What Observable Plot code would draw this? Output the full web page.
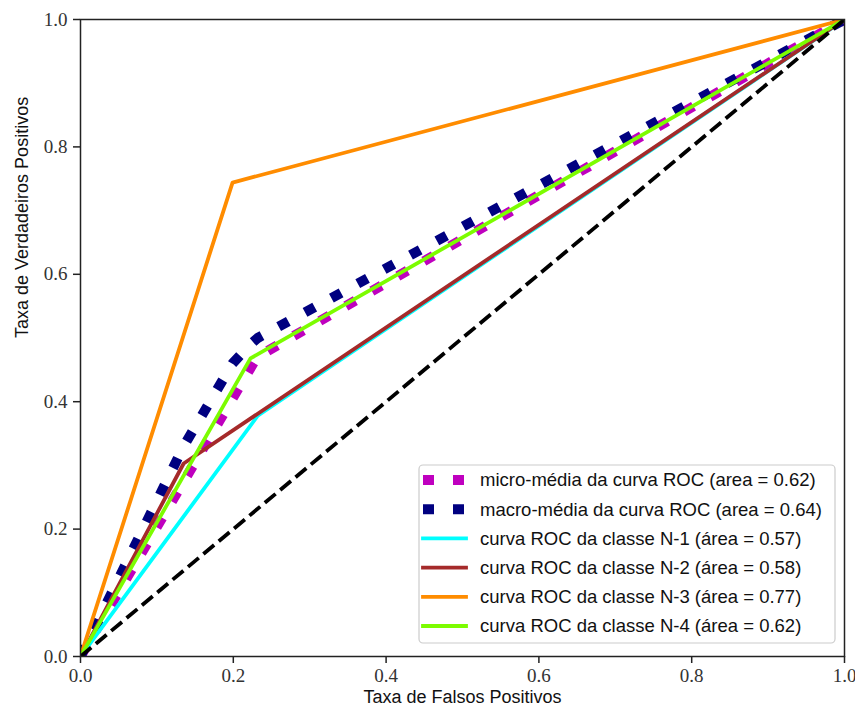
<!DOCTYPE html>
<html>
<head>
<meta charset="utf-8">
<script src="https://cdn.jsdelivr.net/npm/d3@7"></script>
<script src="https://cdn.jsdelivr.net/npm/@observablehq/plot@0.6"></script>
<style>
  html, body { margin: 0; padding: 0; background: #fff; }
  #chart svg { display: block; }
  #chart svg text.tick-serif { font-family: "Liberation Serif", "DejaVu Serif", serif !important; }
</style>
</head>
<body>
<div id="chart"></div>
<script>
// ROC curves (false positive rate, true positive rate) per series
const microFpr = [0, 0.231, 1];
const microTpr = [0, 0.47, 1];
const macroFpr = [0, 0.135, 0.199, 0.2225, 0.232, 1];
const macroTpr = [0, 0.33, 0.46, 0.49, 0.50, 1];
const n1Fpr = [0, 0.232, 1];
const n1Tpr = [0, 0.378, 1];
const n2Fpr = [0, 0.135, 1];
const n2Tpr = [0, 0.303, 1];
const n3Fpr = [0, 0.199, 1];
const n3Tpr = [0, 0.744, 1];
const n4Fpr = [0, 0.2225, 1];
const n4Tpr = [0, 0.468, 1];
const chanceFpr = [0, 1];
const chanceTpr = [0, 1];

const seriesKeys = ["micro", "macro", "N-1", "N-2", "N-3", "N-4"];
const seriesLabels = [
  "micro-média da curva ROC (area = 0.62)",
  "macro-média da curva ROC (area = 0.64)",
  "curva ROC da classe N-1 (área = 0.57)",
  "curva ROC da classe N-2 (área = 0.58)",
  "curva ROC da classe N-3 (área = 0.77)",
  "curva ROC da classe N-4 (área = 0.62)"
];
const axisTicks = [0, 0.2, 0.4, 0.6, 0.8, 1.0];

// drawing styles, kept apart from the values
const styles = {
  "micro": {stroke: "#bf00bf", width: 10, dash: "11 19"},
  "macro": {stroke: "#000080", width: 10, dash: "11 19"},
  "N-1": {stroke: "#00ffff", width: 3.8, dash: null},
  "N-2": {stroke: "#a52a2a", width: 3.8, dash: null},
  "N-3": {stroke: "#ff8c00", width: 3.8, dash: null},
  "N-4": {stroke: "#7cfc00", width: 3.8, dash: null}
};

const curveValues = {
  "micro": [microFpr, microTpr],
  "macro": [macroFpr, macroTpr],
  "N-1": [n1Fpr, n1Tpr],
  "N-2": [n2Fpr, n2Tpr],
  "N-3": [n3Fpr, n3Tpr],
  "N-4": [n4Fpr, n4Tpr]
};

const toRows = (fpr, tpr) => fpr.map((f, i) => ({fpr: f, tpr: tpr[i]}));

const W = 855, H = 713;
const margin = {top: 19, right: 11, bottom: 57, left: 80};
const sans = "'Liberation Sans', Arial, sans-serif";

const curveMarks = seriesKeys.map(k => {
  const s = styles[k];
  const [f, t] = curveValues[k];
  return Plot.line(toRows(f, t), {
    x: "fpr", y: "tpr",
    stroke: s.stroke,
    strokeWidth: s.width,
    strokeDasharray: s.dash ?? undefined,
    strokeLinecap: s.dash ? "butt" : "round",
    strokeLinejoin: "round",
    clip: true
  });
});

const chart = Plot.plot({
  width: W,
  height: H,
  marginTop: margin.top,
  marginRight: margin.right,
  marginBottom: margin.bottom,
  marginLeft: margin.left,
  style: {background: "#fff", color: "#222", fontSize: "19px", overflow: "visible"},
  x: {domain: [0, 1], label: null},
  y: {domain: [0, 1], label: null},
  marks: [
    ...curveMarks,
    Plot.line(toRows(chanceFpr, chanceTpr), {
      x: "fpr", y: "tpr", stroke: "#000", strokeWidth: 3.8,
      strokeDasharray: "14 6", strokeLinecap: "butt", clip: true
    }),
    Plot.frame({stroke: "#222", strokeWidth: 1.5}),
    Plot.axisX({
      ticks: axisTicks, tickFormat: d3.format(".1f"), tickSize: 7, tickPadding: 5,
      fontSize: 19, strokeWidth: 1.5, label: null
    }),
    Plot.axisY({
      ticks: axisTicks, tickFormat: d3.format(".1f"), tickSize: 7, tickPadding: 6,
      fontSize: 19, strokeWidth: 1.5, label: null
    }),
    Plot.text(["Taxa de Falsos Positivos"], {
      text: d => d, frameAnchor: "bottom", dy: 41, lineAnchor: "middle",
      fontSize: 18, fontFamily: sans, fill: "#111"
    }),
    Plot.text(["Taxa de Verdadeiros Positivos"], {
      text: d => d, frameAnchor: "left", dx: -58, rotate: -90, lineAnchor: "middle",
      fontSize: 18, fontFamily: sans, fill: "#111"
    })
  ]
});

const svg = d3.select(chart);

// serif digits on both axes
svg.selectAll("text")
  .filter(function() { return /^\d\.\d$/.test(this.textContent.trim()); })
  .classed("tick-serif", true)
  .style("fill", "#333");

// legend box in the lower-right corner of the frame
const box = {x: 419, y: 465, w: 416, h: 178};
const lg = svg.append("g").attr("class", "legend").attr("text-anchor", "start");
lg.append("rect")
  .attr("x", box.x).attr("y", box.y)
  .attr("width", box.w).attr("height", box.h)
  .attr("rx", 4)
  .attr("fill", "#fff").attr("fill-opacity", 0.8)
  .attr("stroke", "#ccc").attr("stroke-width", 1.2);

const rowStart = box.y + 15, rowStep = 29.2;
seriesKeys.forEach((k, i) => {
  const s = styles[k];
  const y = rowStart + i * rowStep;
  lg.append("line")
    .attr("x1", box.x + 4).attr("x2", box.x + 47)
    .attr("y1", y).attr("y2", y)
    .attr("stroke", s.stroke)
    .attr("stroke-width", s.width)
    .attr("stroke-dasharray", s.dash)
    .attr("stroke-linecap", s.dash ? "butt" : "square");
  lg.append("text")
    .attr("x", box.x + 61).attr("y", y)
    .attr("dy", "0.35em")
    .attr("text-anchor", "start")
    .style("font-family", sans)
    .style("font-size", "18.5px")
    .attr("fill", "#111")
    .text(seriesLabels[i]);
});

document.getElementById("chart").appendChild(chart);
</script>
</body>
</html>
